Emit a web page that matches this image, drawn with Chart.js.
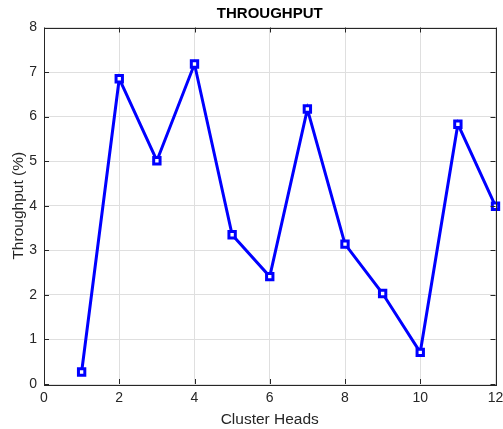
<!DOCTYPE html>
<html>
<head>
<meta charset="utf-8">
<script src="https://cdn.jsdelivr.net/npm/chart.js@4.4.1/dist/chart.umd.min.js"></script>
<style>
  html, body { margin: 0; padding: 0; background: #fff; }
  #wrap { width: 503px; height: 429px; }
</style>
</head>
<body>
<div id="wrap"><canvas id="mainGraph" width="503" height="429"></canvas></div>
<script>
// values
var clusterHeads = [1, 2, 3, 4, 5, 6, 7, 8, 9, 10, 11, 12];
var throughput = [0.27, 6.85, 5.01, 7.18, 3.35, 2.41, 6.17, 3.14, 2.03, 0.71, 5.83, 3.99];
var xTicks = [0, 2, 4, 6, 8, 10, 12];
var yTicks = [0, 1, 2, 3, 4, 5, 6, 7, 8];

var axisColor = '#262626';
var fontFam = '"Liberation Sans", Arial, Helvetica, sans-serif';

// MATLAB style box with inward ticks on all four sides
var boxTicks = {
    id: 'boxTicks',
    afterDraw: function(chart) {
        var c = chart.ctx, a = chart.chartArea;
        var xs = chart.scales.x, ys = chart.scales.y;
        var len = 5;
        c.save();
        c.strokeStyle = axisColor;
        c.lineWidth = 1;
        c.beginPath();
        xTicks.forEach(function(v) {
            var px = Math.round(xs.getPixelForValue(v)) + 0.5;
            c.moveTo(px, a.bottom); c.lineTo(px, a.bottom - len);
            c.moveTo(px, a.top); c.lineTo(px, a.top + len);
        });
        yTicks.forEach(function(v) {
            var py = Math.round(ys.getPixelForValue(v)) + 0.5;
            c.moveTo(a.left, py); c.lineTo(a.left + len, py);
            c.moveTo(a.right, py); c.lineTo(a.right - len, py);
        });
        c.stroke();
        c.strokeRect(Math.round(a.left) + 0.5, Math.round(a.top) + 0.5,
                     Math.round(a.right - a.left), Math.round(a.bottom - a.top));
        c.restore();
    }
};

var ctx = document.getElementById('mainGraph').getContext('2d');

var chart = new Chart(ctx, {
    type: 'line',
    data: {
        datasets: [{
            data: clusterHeads.map(function(x, i) { return { x: x, y: throughput[i] }; }),
            borderColor: '#0000ff',
            borderWidth: 3,
            backgroundColor: '#ffffff',
            pointStyle: 'rect',
            pointRadius: 4.5,
            pointBorderWidth: 3,
            pointBorderColor: '#0000ff',
            pointBackgroundColor: '#ffffff',
            tension: 0,
            fill: false,
            clip: false
        }]
    },
    options: {
        responsive: false,
        animation: false,
        layout: { padding: { left: 4, right: 7, top: 0, bottom: 0 } },
        plugins: {
            legend: { display: false },
            tooltip: { enabled: false },
            title: {
                display: true,
                text: 'THROUGHPUT',
                fullSize: false,
                color: '#000',
                font: { family: fontFam, size: 15, weight: 'bold' },
                padding: { top: 5, bottom: 4.5 }
            }
        },
        scales: {
            x: {
                type: 'linear',
                min: 0, max: 12,
                afterBuildTicks: function(s) { s.ticks = xTicks.map(function(v) { return { value: v }; }); },
                afterFit: function(s) { s.height = 45; s.paddingLeft = 0; s.paddingRight = 0; },
                grid: { color: '#dfdfdf', drawTicks: false },
                border: { display: false },
                ticks: { color: axisColor, font: { family: fontFam, size: 14 }, padding: 6, maxRotation: 0 },
                title: {
                    display: true, text: 'Cluster Heads', color: axisColor,
                    font: { family: fontFam, size: 15.5 }, padding: { top: 2, bottom: 0 }
                }
            },
            y: {
                min: 0, max: 8,
                afterBuildTicks: function(s) { s.ticks = yTicks.map(function(v) { return { value: v }; }); },
                afterFit: function(s) { s.width = 40; },
                grid: { color: '#dfdfdf', drawTicks: false },
                border: { display: false },
                ticks: { color: axisColor, font: { family: fontFam, size: 14 }, padding: 7 },
                title: {
                    display: true, text: 'Throughput (%)', color: axisColor,
                    font: { family: fontFam, size: 15.5 }, padding: { top: 5, bottom: 2 }
                }
            }
        }
    },
    plugins: [boxTicks]
});
</script>
</body>
</html>
